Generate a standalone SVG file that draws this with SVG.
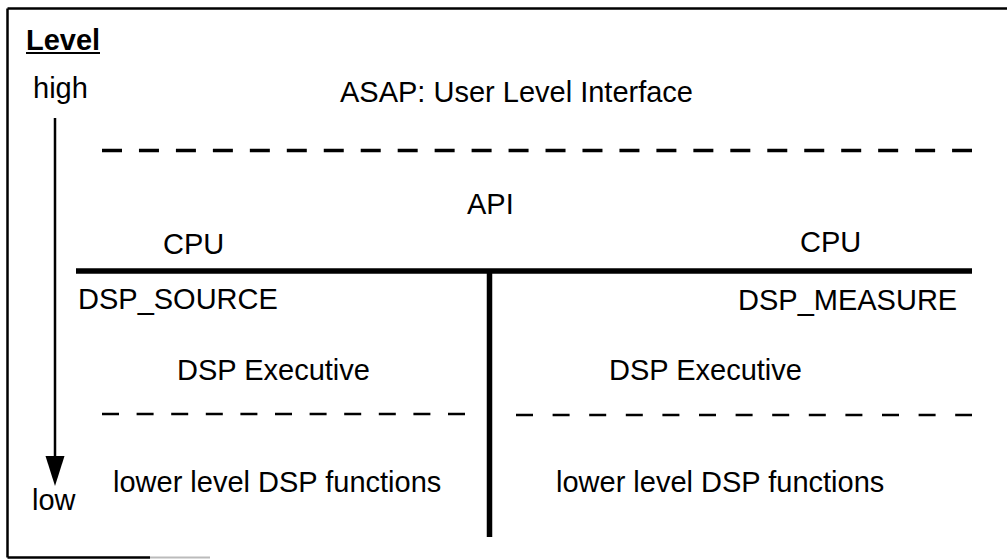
<svg xmlns="http://www.w3.org/2000/svg" width="1007" height="560" viewBox="0 0 1007 560">
<defs>
<style>
text { font-family: "Liberation Sans", Arial, sans-serif; font-size: 29px; fill: #000; }
.bold { font-weight: bold; }
.frame { stroke: #000; stroke-width: 2.5; fill: none; }
.thick { stroke: #000; stroke-width: 5.5; fill: none; }
.dashTop { stroke: #000; stroke-width: 3.5; stroke-dasharray: 20 16.96; fill: none; }
.dashLowL { stroke: #000; stroke-width: 2.5; stroke-dasharray: 17 17.6; fill: none; }
.dashLowR { stroke: #000; stroke-width: 2.5; stroke-dasharray: 17 19.6; fill: none; }
.arrow { stroke: #000; stroke-width: 2.5; fill: none; }
</style>
</defs>
<rect x="0" y="0" width="1007" height="560" fill="#fff"/>
<g id="frame">
<line class="frame" x1="7.5" y1="8.5" x2="1007" y2="8.5"/>
<line class="frame" x1="7.5" y1="8.5" x2="7.5" y2="557.5"/>
<line class="frame" x1="7.5" y1="557.5" x2="150" y2="557.5"/>
<line x1="150" y1="557.5" x2="210" y2="557.5" stroke="#bbb" stroke-width="2"/>
</g>
<g id="level-axis">
<text class="bold" x="26" y="50">Level</text>
<line x1="26" y1="53" x2="100" y2="53" stroke="#000" stroke-width="2"/>
<text x="33" y="98">high</text>
<text x="32" y="510">low</text>
</g>
<g id="connectors">
<line class="arrow" x1="55" y1="118" x2="55" y2="458"/>
<path d="M45.5,456 L64.5,456 L55,486 Z" fill="#000"/>
<line class="dashTop" x1="102" y1="150.5" x2="972" y2="150.5"/>
<line class="thick" x1="76" y1="271" x2="972" y2="271"/>
<line class="thick" x1="489.5" y1="271" x2="489.5" y2="537"/>
<line class="dashLowL" x1="102" y1="414" x2="465" y2="414"/>
<line class="dashLowR" x1="516" y1="415" x2="972" y2="415"/>
</g>
<g id="user-level">
<text x="340" y="102">ASAP: User Level Interface</text>
</g>
<g id="api">
<text x="467" y="214">API</text>
</g>
<g id="cpu-source">
<text x="163" y="254">CPU</text>
<text x="78" y="309">DSP_SOURCE</text>
<text x="177" y="380">DSP Executive</text>
<text x="113" y="492">lower level DSP functions</text>
</g>
<g id="cpu-measure">
<text x="800" y="252">CPU</text>
<text x="738" y="310">DSP_MEASURE</text>
<text x="609" y="380">DSP Executive</text>
<text x="556" y="492">lower level DSP functions</text>
</g>
</svg>
